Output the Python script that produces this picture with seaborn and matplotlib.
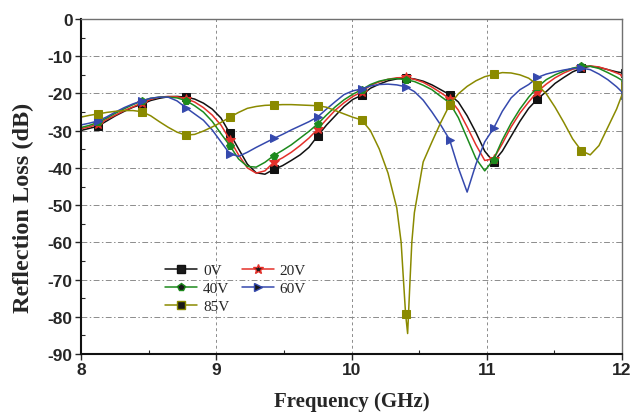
import numpy as np
import pandas as pd
import seaborn as sns
import matplotlib.pyplot as plt
from matplotlib.lines import Line2D
from matplotlib.ticker import MultipleLocator

# frequency grid (GHz), markers sit on every 5th point
freq = np.round(np.linspace(7.995, 12.025, 63), 3)
marker_freq = freq[2::5]

# reflection loss (dB), one value per grid point
rl_0v = [-30.0, -29.4, -28.8, -27.4, -26.0, -24.8, -23.7, -22.9, -21.9, -21.3,
         -20.9, -20.8, -21.0, -21.5, -22.6, -24.2, -26.6, -30.7, -34.9, -39.0,
         -41.3, -41.7, -40.4, -39.4, -38.0, -36.5, -34.5, -31.4, -28.5, -26.0,
         -23.5, -21.6, -20.5, -18.6, -17.5, -16.6, -16.1, -15.8, -16.1, -16.7,
         -17.7, -19.0, -20.3, -22.3, -26.0, -30.5, -35.5, -38.4, -35.5, -31.5,
         -27.5, -24.0, -21.5, -19.5, -17.3, -15.7, -14.2, -13.2, -12.7, -13.0,
         -13.6, -14.2, -14.6]
rl_20v = [-29.5, -29.0, -28.2, -27.0, -25.8, -24.6, -23.6, -22.5, -21.6, -21.0,
          -20.8, -20.9, -21.4, -22.3, -23.8, -25.8, -28.5, -32.4, -36.5, -40.0,
          -41.4, -40.8, -38.5, -37.3, -35.8, -34.0, -32.0, -29.6, -27.0, -24.5,
          -22.5, -20.8, -19.6, -17.8, -16.9, -16.2, -15.8, -15.7, -16.2, -17.0,
          -18.3, -19.8, -21.4, -24.5, -29.0, -33.8, -38.0, -37.6, -33.5, -29.0,
          -25.3, -22.3, -19.5, -17.5, -15.8, -14.5, -13.5, -12.9, -12.6, -12.9,
          -13.6, -14.5, -15.5]
rl_40v = [-29.2, -28.6, -27.8, -26.6, -25.3, -24.1, -23.0, -22.0, -21.3, -21.0,
          -21.0, -21.2, -21.9, -23.3, -25.0, -27.5, -30.8, -34.0, -37.6, -39.6,
          -39.8, -38.5, -36.7, -35.3, -33.8, -32.0, -30.2, -28.2, -25.8, -23.6,
          -21.7, -20.2, -19.0, -17.6, -16.7, -16.2, -16.0, -16.3, -16.8, -17.8,
          -19.0, -20.8, -22.5, -26.5, -32.0, -37.5, -40.8, -37.8, -32.5, -28.0,
          -24.2, -21.0, -18.3, -16.3, -15.0, -14.0, -13.2, -12.7, -12.7, -13.3,
          -14.4, -15.6, -17.0]
rl_60v = [-28.5, -28.0, -27.4, -26.3, -25.0, -23.8, -22.8, -22.0, -21.3, -21.0,
          -21.0, -22.0, -23.8, -25.5, -27.2, -29.8, -33.0, -36.2, -36.9, -35.8,
          -34.5, -33.3, -32.1, -31.0, -29.8, -28.7, -27.6, -26.3, -24.2, -22.2,
          -20.3, -19.3, -18.8, -18.0, -17.6, -17.5, -17.7, -18.2, -19.5, -21.8,
          -25.0, -28.5, -32.4, -40.0, -46.5, -39.0, -33.0, -29.4, -24.8, -21.2,
          -19.0, -17.6, -15.7, -14.8, -14.2, -13.7, -13.3, -13.2, -13.6, -14.8,
          -16.3, -18.2, -20.5]
rl_85v = [-26.4, -25.9, -25.5, -25.1, -24.8, -24.6, -24.6, -24.9, -26.0, -27.6,
          -29.1, -30.4, -31.2, -31.0, -30.1, -29.0, -27.8, -26.4, -25.1, -24.0,
          -23.5, -23.2, -23.1, -23.0, -23.0, -23.1, -23.2, -23.3, -23.7, -24.6,
          -25.5, -26.4, -27.1, -30.0, -34.9, -41.4, -50.8, -79.3, -52.0, -38.4,
          -33.0, -27.8, -23.1, -20.1, -18.1, -16.6, -15.5, -14.9, -14.4, -14.5,
          -15.0, -15.9, -17.7, -20.1, -23.7, -27.8, -32.2, -35.4, -36.5, -34.0,
          -29.1, -24.2, -18.0]
# extra points read along the narrow 85V resonance
dip_freq_85 = [10.367, 10.384, 10.415, 10.433, 10.446]
dip_rl_85 = [-60.0, -70.0, -84.5, -70.0, -60.0]

biases = ['0V', '20V', '40V', '60V', '85V']
colors = ['#111111', '#e4302a', '#1d8a1d', '#3549ad', '#8a8a00']
markers = ['s', '*', 'p', '>', 's']
msizes = [5.5, 7.5, 6, 6, 5.5]

frames = []
for b, rl in zip(biases, [rl_0v, rl_20v, rl_40v, rl_60v, rl_85v]):
    frames.append(pd.DataFrame({'freq': freq, 'rl': rl, 'bias': b}))
frames.append(pd.DataFrame({'freq': dip_freq_85, 'rl': dip_rl_85, 'bias': '85V'}))
df = pd.concat(frames).sort_values(['bias', 'freq']).reset_index(drop=True)

sns.set_style('white')
plt.rcParams['font.family'] = ['Liberation Sans', 'DejaVu Sans']
plt.rcParams['axes.unicode_minus'] = False

fig = plt.figure(figsize=(6.42, 4.14), dpi=100)
ax = fig.add_axes([81 / 642, 1 - 355 / 414, 541 / 642, 335 / 414])

for b, c, m, ms in zip(biases, colors, markers, msizes):
    d = df[df['bias'] == b]
    mark = list(np.isin(d['freq'].round(3), marker_freq))
    sns.lineplot(data=d, x='freq', y='rl', ax=ax, color=c, lw=1.1,
                 marker=m, markersize=ms, markevery=mark, markeredgecolor=c,
                 estimator=None, sort=False, legend=False)

ax.set_xlim(8, 12)
ax.set_ylim(-90, 0)
ax.xaxis.set_major_locator(MultipleLocator(1))
ax.xaxis.set_minor_locator(MultipleLocator(0.5))
ax.yaxis.set_major_locator(MultipleLocator(10))
ax.yaxis.set_minor_locator(MultipleLocator(5))
ax.xaxis.grid(True, which='major', color='#8c8c8c', ls=(0, (3, 3)), lw=0.7)
ax.yaxis.grid(True, which='major', color='#8c8c8c', ls=(0, (6, 2.5, 1.5, 2.5)), lw=0.7)
ax.tick_params(which='both', bottom=True, left=True)
ax.tick_params(which='major', direction='out', length=4, width=1, labelsize=12.5, pad=2)
ax.tick_params(which='minor', direction='in', length=3, width=0.8)
for lab in ax.get_xticklabels() + ax.get_yticklabels():
    lab.set_fontweight('bold')

for s in ['left', 'bottom']:
    ax.spines[s].set_color('#111111')
    ax.spines[s].set_linewidth(1.5)
for s in ['top', 'right']:
    ax.spines[s].set_color('#707070')
    ax.spines[s].set_linewidth(1.0)

ax.set_xlabel('Frequency (GHz)', fontfamily='Liberation Serif', fontweight='bold', fontsize=15)
ax.set_ylabel('Reflection Loss (dB)', fontfamily='Liberation Serif', fontweight='bold', fontsize=17.5)
ax.xaxis.set_label_coords(0.5, -0.11)
ax.yaxis.set_label_coords(-0.087, 0.44)

# legend: dark filled markers with coloured edges, two columns
handles = []
for b, c, m, ms in zip(biases, colors, markers, msizes):
    handles.append(Line2D([], [], color=c, lw=1.1, marker=m, markersize=ms,
                          markerfacecolor='#1a1a1a', markeredgecolor=c, label=b))
order = [0, 2, 4, 1, 3]
ax.legend(handles=[handles[i] for i in order], ncol=2, loc='upper left',
          bbox_to_anchor=(0.155, 0.27), frameon=False, borderpad=0, borderaxespad=0,
          handlelength=2.1, handletextpad=0.4, columnspacing=0.8, labelspacing=0.28,
          prop={'family': 'Liberation Serif', 'size': 11})

fig.savefig('out.png', dpi=100)
